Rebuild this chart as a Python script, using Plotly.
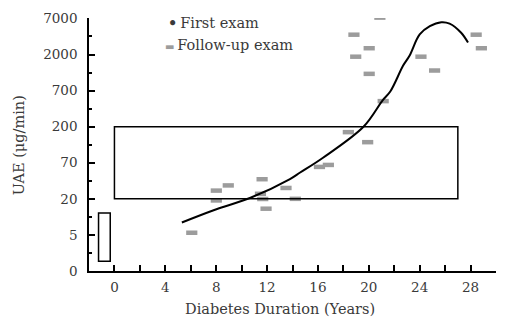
import plotly.graph_objects as go

# ---- data ----
curve_x = [5.3, 7.8, 10.7, 13.8, 14.6, 16.4, 19.6, 21.1, 21.7, 22.7, 23.2, 24.0, 24.8, 25.7, 26.35, 27.26, 27.8]
curve_y = [9.4, 13.9, 20.7, 37.6, 46.3, 74.3, 201, 467, 620, 1406, 1925, 3800, 4945, 5610, 5370, 4010, 2925]

follow_x = [6.08, 8.01, 8.01, 8.95, 11.61, 11.48, 11.66, 11.92, 13.49, 14.22, 16.12, 16.82,
            18.39, 19.91, 21.13, 20.03, 20.87, 18.83, 20.03, 18.97, 24.10, 25.17, 28.44, 28.85]
follow_y = [6.78, 26.0, 19.0, 30.7, 37.4, 23.5, 19.9, 14.6, 28.3, 20.0, 55.4, 59.0,
            168, 122, 452, 1079, 6490, 3765, 2445, 1866, 1866, 1200, 3765, 2445]

# normal-range box and first-exam range box
box_x = [0, 27]
box_y = [20, 200]
small_box_x = [-1.25, -0.33]
small_box_y = [2.72, 12.7]

ytick_vals = [2, 6.325, 20, 63.25, 200, 632.5, 2000, 6325]
ytick_text = ["0", "5", "20", "70", "200", "700", "2000", "7000"]
yminor_vals = [3.557, 11.25, 35.57, 112.5, 355.7, 1125, 3557]
xtick_vals = [0, 4, 8, 12, 16, 20, 24, 28]
xminor_vals = [2, 6, 10, 14, 18, 22, 26, 30]

FONT = "DejaVu Serif"
TXT = "#3a3a3a"
FS = 14.5
TFS = 13.5

fig = go.Figure()

fig.add_trace(go.Scatter(
    x=follow_x, y=follow_y, mode="markers", name="Follow-up exam",
    marker=dict(symbol="line-ew", size=8, color="#9c9c9c",
                line=dict(color="#9c9c9c", width=4.5)),
    showlegend=False,
))
fig.add_trace(go.Scatter(
    x=curve_x, y=curve_y, mode="lines", name="First exam",
    line=dict(color="black", width=2, shape="spline", smoothing=1.0),
    showlegend=False,
))

# rectangles
fig.add_shape(type="rect", x0=box_x[0], x1=box_x[1], y0=box_y[0], y1=box_y[1],
              xref="x", yref="y", line=dict(color="black", width=1.5))
fig.add_shape(type="rect", x0=small_box_x[0], x1=small_box_x[1], y0=small_box_y[0], y1=small_box_y[1],
              xref="x", yref="y", line=dict(color="black", width=1.5))

L, R, T, B = 89, 10, 15, 55.5
W, H = 506, 327
pw, ph = W - L - R, H - T - B

def px(x):
    return (x - L) / pw

def py(y):
    return (H - B - y) / ph

fig.update_layout(
    width=W, height=H,
    margin=dict(l=L, r=R, t=T, b=B, pad=0),
    paper_bgcolor="white", plot_bgcolor="white",
    font=dict(family=FONT, size=FS, color=TXT),
    xaxis=dict(
        range=[-2, 30], showgrid=False, zeroline=False,
        showline=True, linecolor="black", linewidth=1.5,
        ticks="inside", ticklen=6, tickwidth=1.5, tickcolor="black",
        tickvals=xtick_vals, ticktext=[str(v) for v in xtick_vals],
        ticklabelstandoff=3,
        minor=dict(tickvals=xminor_vals, ticks="inside", ticklen=6, tickwidth=1.5, tickcolor="black"),
        tickfont=dict(family=FONT, size=TFS, color=TXT),
    ),
    yaxis=dict(
        type="log", range=[0.30103, 3.807], showgrid=False, zeroline=False,
        showline=True, linecolor="black", linewidth=1.5,
        ticks="inside", ticklen=6, tickwidth=1.5, tickcolor="black",
        tickvals=ytick_vals, ticktext=ytick_text,
        ticklabelstandoff=7,
        minor=dict(tickvals=yminor_vals, ticks="inside", ticklen=3, tickwidth=1.5, tickcolor="black"),
        tickfont=dict(family=FONT, size=TFS, color=TXT),
    ),
    annotations=[
        dict(text="Diabetes Duration (Years)", xref="paper", yref="paper",
             x=px(279.5), y=py(310), xanchor="center", yanchor="middle",
             showarrow=False, font=dict(family=FONT, size=FS, color=TXT)),
        dict(text="UAE (μg/min)", xref="paper", yref="paper",
             x=px(19), y=py(144), xanchor="center", yanchor="middle", textangle=-90,
             showarrow=False, font=dict(family=FONT, size=FS, color=TXT)),
        dict(text="<b>•</b>\u2009First exam", xref="paper", yref="paper",
             x=px(166), y=py(20), xanchor="left", yanchor="middle",
             showarrow=False, font=dict(family=FONT, size=FS, color=TXT)),
        dict(text="<span style='color:#9c9c9c;font-size:10px'>▬</span>\u2009Follow-up exam", xref="paper", yref="paper",
             x=px(163), y=py(42), xanchor="left", yanchor="middle",
             showarrow=False, font=dict(family=FONT, size=FS, color=TXT)),
    ],
)

fig.write_html("out.html", config={"displayModeBar": False},
               post_script="document.body.style.margin='0';")
